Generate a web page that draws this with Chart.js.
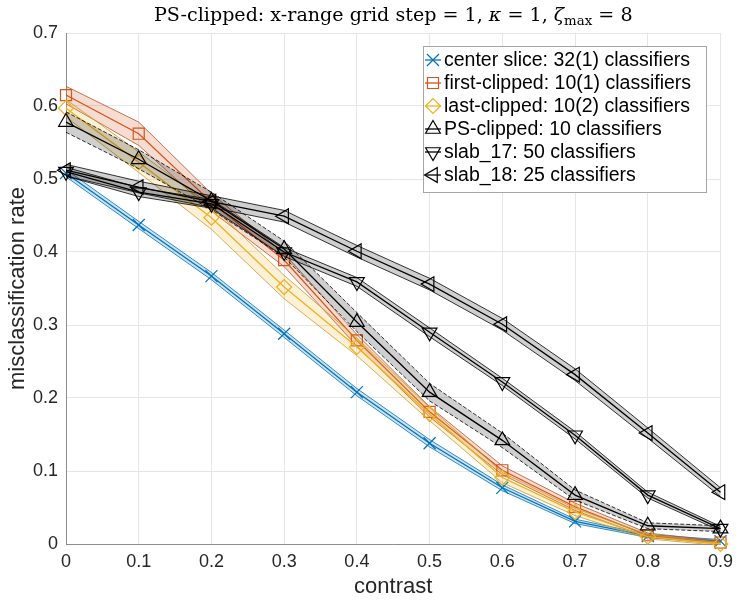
<!DOCTYPE html>
<html>
<head>
<meta charset="utf-8">
<script src="https://cdn.jsdelivr.net/npm/chart.js@4.4.1/dist/chart.umd.min.js"></script>
<style>
  html, body { margin: 0; padding: 0; background: #ffffff; }
  #wrap { width: 740px; height: 600px; }
</style>
</head>
<body>
<div id="wrap"><canvas id="chart" width="740" height="600"></canvas></div>
<script>
// contrast values (x) and tick labels
const contrast = [0, 0.1, 0.2, 0.3, 0.4, 0.5, 0.6, 0.7, 0.8, 0.9];
const xTickValues = [0, 0.1, 0.2, 0.3, 0.4, 0.5, 0.6, 0.7, 0.8, 0.9];
const yTickValues = [0, 0.1, 0.2, 0.3, 0.4, 0.5, 0.6, 0.7];

// series labels
const seriesLabels = [
    "center slice: 32(1) classifiers",
    "first-clipped: 10(1) classifiers",
    "last-clipped: 10(2) classifiers",
    "PS-clipped: 10 classifiers",
    "slab_17: 50 classifiers",
    "slab_18: 25 classifiers",
];

// mean misclassification rate per series
const centerMean = [0.508, 0.437, 0.367, 0.288, 0.208, 0.138, 0.077, 0.031, 0.011, 0.004];
const firstMean = [0.615, 0.562, 0.468, 0.389, 0.279, 0.181, 0.101, 0.051, 0.012, 0.002];
const lastMean = [0.597, 0.523, 0.447, 0.352, 0.270, 0.178, 0.091, 0.044, 0.010, 0.000];
const psMean = [0.578, 0.527, 0.470, 0.404, 0.304, 0.208, 0.142, 0.067, 0.025, 0.021];
const slab17Mean = [0.510, 0.482, 0.466, 0.400, 0.359, 0.290, 0.222, 0.149, 0.067, 0.021];
const slab18Mean = [0.512, 0.489, 0.469, 0.449, 0.401, 0.356, 0.301, 0.232, 0.152, 0.071];

// half-width of the shaded band per series
const centerSpread = [0.005, 0.005, 0.005, 0.005, 0.005, 0.005, 0.004, 0.003, 0.002, 0.002];
const firstSpread = [0.012, 0.016, 0.012, 0.009, 0.008, 0.007, 0.006, 0.005, 0.003, 0.002];
const lastSpread = [0.012, 0.014, 0.016, 0.016, 0.012, 0.009, 0.007, 0.005, 0.003, 0.002];
const psSpread = [0.014, 0.013, 0.012, 0.011, 0.013, 0.012, 0.010, 0.007, 0.004, 0.004];
const slab17Spread = [0.006, 0.006, 0.006, 0.006, 0.006, 0.006, 0.005, 0.005, 0.004, 0.003];
const slab18Spread = [0.008, 0.008, 0.008, 0.008, 0.008, 0.008, 0.008, 0.008, 0.007, 0.006];

const means = [centerMean, firstMean, lastMean, psMean, slab17Mean, slab18Mean];
const spreads = [centerSpread, firstSpread, lastSpread, psSpread, slab17Spread, slab18Spread];

// look of each series
const styles = [
    { color: "#0072BD", edge: "#0072BD", band: "rgba(0, 114, 189, 0.20)", marker: "crossRot", rotation: 0, radius: 8.5, dash: [] },
    { color: "#D95319", edge: "#b0552c", band: "rgba(217, 83, 25, 0.20)", marker: "rect", rotation: 0, radius: 7.8, dash: [] },
    { color: "#EDB120", edge: "#c39a2e", band: "rgba(237, 177, 32, 0.18)", marker: "rectRot", rotation: 0, radius: 7.5, dash: [] },
    { color: "#000000", edge: "#000000", band: "rgba(0, 0, 0, 0.19)", marker: "triangle", rotation: 0, radius: 8.5, dash: [4, 2] },
    { color: "#000000", edge: "#000000", band: "rgba(0, 0, 0, 0.19)", marker: "triangle", rotation: 180, radius: 8.5, dash: [] },
    { color: "#000000", edge: "#000000", band: "rgba(0, 0, 0, 0.19)", marker: "triangle", rotation: 270, radius: 8.5, dash: [] },
];

const toPoints = (ys) => ys.map((y, i) => ({ x: contrast[i], y: y }));

const datasets = [];
means.forEach((mean, s) => {
    const st = styles[s];
    const lower = mean.map((m, i) => m - spreads[s][i]);
    const upper = mean.map((m, i) => m + spreads[s][i]);
    const lowerIndex = datasets.length;
    datasets.push({
        label: seriesLabels[s] + " lower",
        data: toPoints(lower),
        borderColor: st.edge,
        borderWidth: 0.8,
        borderDash: st.dash,
        pointRadius: 0,
        fill: false,
    });
    datasets.push({
        label: seriesLabels[s] + " upper",
        data: toPoints(upper),
        borderColor: st.edge,
        borderWidth: 0.8,
        borderDash: st.dash,
        backgroundColor: st.band,
        pointRadius: 0,
        fill: lowerIndex,
    });
    datasets.push({
        label: seriesLabels[s],
        isMean: true,
        data: toPoints(mean),
        borderColor: st.color,
        borderWidth: 1.3,
        pointStyle: st.marker,
        pointRotation: st.rotation,
        pointRadius: st.radius,
        pointBorderColor: st.color,
        pointBackgroundColor: "rgba(0, 0, 0, 0)",
        pointBorderWidth: 1.2,
        fill: false,
        clip: false,
    });
});
// later series drawn on top
datasets.forEach((ds, i) => { ds.order = datasets.length - i; });

const titlePlugin = {
    id: "mathTitle",
    afterDraw(chart) {
        const ctx = chart.ctx;
        const parts = [
            { text: "PS-clipped: x-range grid step = 1, ", kind: "rm" },
            { text: "κ", kind: "it" },
            { text: " = 1, ", kind: "rm" },
            { text: "ζ", kind: "it" },
            { text: "max", kind: "sub" },
            { text: " = 8", kind: "rm" },
        ];
        const targetWidth = 479;
        const family = "'DejaVu Serif', serif";
        const fontFor = (kind, size) => {
            if (kind === "it") return "italic " + size + "px " + family;
            if (kind === "sub") return (size * 0.7) + "px " + family;
            return size + "px " + family;
        };
        const measure = (size) => {
            let total = 0;
            parts.forEach((p) => { ctx.font = fontFor(p.kind, size); total += ctx.measureText(p.text).width; });
            return total;
        };
        ctx.save();
        const size = Math.min(20, 18 * targetWidth / measure(18));
        const area = chart.chartArea;
        let x = (area.left + area.right) / 2 - measure(size) / 2;
        const baseline = 21;
        ctx.fillStyle = "#000000";
        ctx.textBaseline = "alphabetic";
        ctx.textAlign = "left";
        parts.forEach((p) => {
            ctx.font = fontFor(p.kind, size);
            ctx.fillText(p.text, x, p.kind === "sub" ? baseline + 4 : baseline);
            x += ctx.measureText(p.text).width;
        });
        ctx.restore();
    },
};

const legendPlugin = {
    id: "boxLegend",
    afterDraw(chart) {
        const ctx = chart.ctx;
        const box = { left: 423, top: 46, width: 283, height: 146 };
        const rowTop = 60;
        const rowStep = 23;
        ctx.save();
        ctx.fillStyle = "#ffffff";
        ctx.fillRect(box.left, box.top, box.width, box.height);
        ctx.strokeStyle = "#a6a6a6";
        ctx.lineWidth = 1;
        ctx.strokeRect(box.left + 0.5, box.top + 0.5, box.width, box.height);
        const items = chart.data.datasets.filter((ds) => ds.isMean);
        ctx.font = "19.5px 'Liberation Sans', Arial, sans-serif";
        ctx.textBaseline = "middle";
        ctx.textAlign = "left";
        items.forEach((ds, i) => {
            const y = rowTop + i * rowStep;
            ctx.strokeStyle = ds.borderColor;
            ctx.lineWidth = 1.3;
            ctx.beginPath();
            ctx.moveTo(box.left + 2, y);
            ctx.lineTo(box.left + 18, y);
            ctx.stroke();
            ctx.fillStyle = "rgba(0, 0, 0, 0)";
            ctx.lineWidth = 1.2;
            Chart.helpers.drawPoint(ctx, {
                pointStyle: ds.pointStyle,
                rotation: ds.pointRotation,
                radius: ds.pointRadius,
                borderWidth: 1.2,
            }, box.left + 10, y);
            ctx.fillStyle = "#000000";
            ctx.fillText(ds.label, box.left + 21, y + 1);
        });
        ctx.restore();
    },
};

const tickFont = { family: "'Liberation Sans', Arial, sans-serif", size: 18 };
const axisFont = { family: "'Liberation Sans', Arial, sans-serif", size: 22 };

new Chart(document.getElementById("chart"), {
    type: "line",
    data: { datasets: datasets },
    options: {
        responsive: false,
        animation: false,
        devicePixelRatio: 1,
        layout: { padding: { top: 33, right: 14, left: 0, bottom: 0 } },
        plugins: {
            legend: { display: false },
            title: { display: false },
            tooltip: { enabled: false },
            filler: { propagate: false },
        },
        elements: { line: { tension: 0 } },
        scales: {
            x: {
                type: "linear",
                min: 0,
                max: 0.9,
                afterFit: (scale) => { scale.height = 56; },
                afterBuildTicks: (scale) => { scale.ticks = xTickValues.map((v) => ({ value: v })); },
                ticks: {
                    font: tickFont,
                    color: "#262626",
                    padding: 7,
                    maxRotation: 0,
                    autoSkip: false,
                    callback: (v) => String(Math.round(v * 10) / 10),
                },
                grid: { color: "#e6e6e6", lineWidth: 1, drawTicks: false },
                border: { display: true, color: "#8c8c8c", width: 1 },
                title: { display: true, text: "contrast", font: axisFont, color: "#262626", padding: { top: 2, bottom: 0 } },
            },
            y: {
                type: "linear",
                min: 0,
                max: 0.7,
                afterFit: (scale) => { scale.width = 66; },
                afterBuildTicks: (scale) => { scale.ticks = yTickValues.map((v) => ({ value: v })); },
                ticks: {
                    font: tickFont,
                    color: "#262626",
                    padding: 8,
                    autoSkip: false,
                    callback: (v) => String(Math.round(v * 10) / 10),
                },
                grid: { color: "#e6e6e6", lineWidth: 1, drawTicks: false },
                border: { display: true, color: "#8c8c8c", width: 1 },
                title: { display: true, text: "misclassification rate", font: axisFont, color: "#262626", padding: { top: 5, bottom: 0 } },
            },
        },
    },
    plugins: [titlePlugin, legendPlugin],
});
</script>
</body>
</html>
